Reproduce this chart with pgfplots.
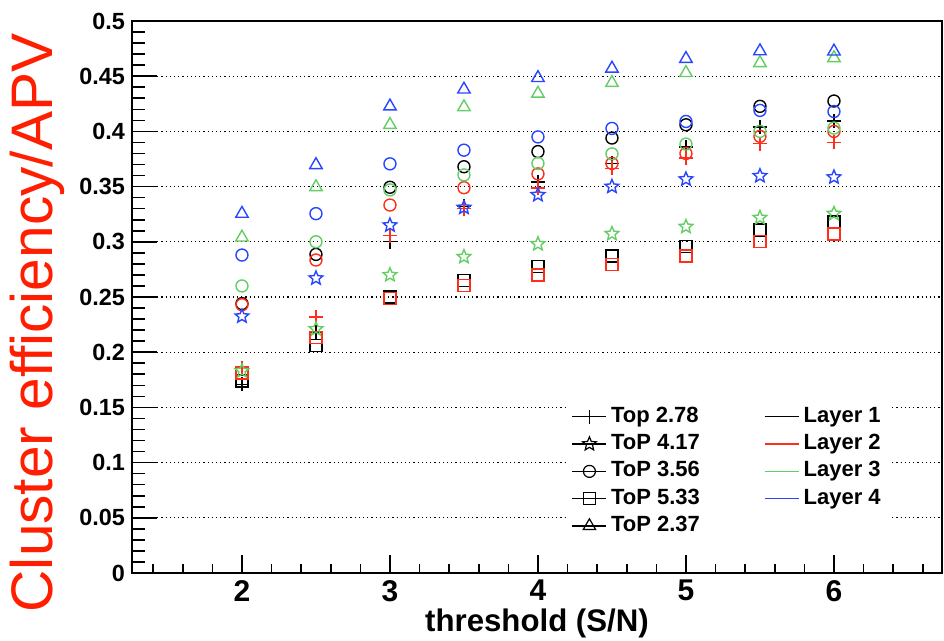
\documentclass[border=0pt]{standalone}
\usepackage{pgfplots}
\usepackage{pgfplotstable}
\pgfplotsset{compat=1.18}
\usepackage{fontspec}
\setmainfont{Liberation Sans}
\definecolor{rred}{RGB}{255,45,25}
\definecolor{rgreen}{RGB}{100,205,100}
\definecolor{rblue}{RGB}{40,70,255}
\definecolor{lblred}{RGB}{255,30,0}
\pgfdeclareplotmark{ostar}{%
  \pgfpathmoveto{\pgfpointpolar{90}{\pgfplotmarksize}}%
  \pgfpathlineto{\pgfpointpolar{126}{0.45*\pgfplotmarksize}}%
  \pgfpathlineto{\pgfpointpolar{162}{\pgfplotmarksize}}%
  \pgfpathlineto{\pgfpointpolar{198}{0.45*\pgfplotmarksize}}%
  \pgfpathlineto{\pgfpointpolar{234}{\pgfplotmarksize}}%
  \pgfpathlineto{\pgfpointpolar{270}{0.45*\pgfplotmarksize}}%
  \pgfpathlineto{\pgfpointpolar{306}{\pgfplotmarksize}}%
  \pgfpathlineto{\pgfpointpolar{342}{0.45*\pgfplotmarksize}}%
  \pgfpathlineto{\pgfpointpolar{18}{\pgfplotmarksize}}%
  \pgfpathlineto{\pgfpointpolar{54}{0.45*\pgfplotmarksize}}%
  \pgfpathclose
  \pgfusepathqstroke}

% p = Top 2.78 (+), c = ToP 3.56 (circle), s = ToP 5.33 (square),
% st = ToP 4.17 (star), t = ToP 2.37 (triangle); digit = layer
\pgfplotstableread{
x   p1     p2     c1     c2     c3     c4     s1     s2     st3    st4    t3     t4
2   0.171  0.186  0.244  0.243  0.260  0.288  0.174  0.181  0.183  0.2325 0.304  0.3255
2.5 0.218  0.232  0.2886 0.2835 0.300  0.3255 0.206  0.2135 0.221  0.267  0.3496 0.3696
3   0.300  0.3055 0.3494 0.3333 0.347  0.3706 0.250  0.2485 0.270  0.315  0.406  0.4227
3.5 0.332  0.330  0.368  0.349  0.3606 0.383  0.265  0.2606 0.2864 0.331  0.422  0.438
4   0.354  0.3486 0.3817 0.3615 0.371  0.395  0.2775 0.270  0.298  0.3425 0.4343 0.4485
4.5 0.371  0.3666 0.394  0.371  0.3796 0.4027 0.287  0.2793 0.3073 0.350  0.444  0.457
5   0.386  0.3758 0.406  0.380  0.3885 0.409  0.296  0.287  0.3137 0.3567 0.453  0.4658
5.5 0.404  0.389  0.4227 0.3955 0.400  0.419  0.3106 0.300  0.3218 0.3597 0.462  0.4727
6   0.4095 0.390  0.4275 0.400  0.403  0.418  0.318  0.307  0.3255 0.3585 0.4665 0.4725
}\data

\begin{document}
\begin{tikzpicture}
\path[use as bounding box] (0,0) rectangle (472pt,320.5pt);
\pgfplotsset{base/.style={
  at={(66pt,34pt)}, anchor=south west, scale only axis,
  width=405pt, height=276pt,
  xmin=1.257, xmax=6.73, ymin=0, ymax=0.5,
  tick align=inside,
  axis line style={line width=0.9pt},
  every tick/.style={black, line width=0.8pt},
}}
% axis 1: y ticks and grid
\begin{axis}[base,
  xtick=\empty,
  ytick={0,0.05,0.1,0.15,0.2,0.25,0.3,0.35,0.4,0.45,0.5},
  yticklabels={0,0.05,0.1,0.15,0.2,0.25,0.3,0.35,0.4,0.45,0.5},
  minor ytick={0.01,0.02,0.03,0.04,0.06,0.07,0.08,0.09,0.11,0.12,0.13,0.14,0.16,0.17,0.18,0.19,0.21,0.22,0.23,0.24,0.26,0.27,0.28,0.29,0.31,0.32,0.33,0.34,0.36,0.37,0.38,0.39,0.41,0.42,0.43,0.44,0.46,0.47,0.48,0.49},
  ytick pos=left,
  major tick length=12.5pt, minor tick length=6.3pt,
  ymajorgrids,
  major grid style={black, line width=0.6pt, dash pattern=on 0.6pt off 1.5pt},
  yticklabel style={font=\bfseries\fontsize{11.7}{12}\selectfont},
]
\end{axis}
% axis 2: x ticks, data, legend
\begin{axis}[base,
  ytick=\empty,
  xtick={2,3,4,5,6},
  xticklabels={2,3,4,5,6},
  minor xtick={1.4,1.6,1.8,2.2,2.4,2.6,2.8,3.2,3.4,3.6,3.8,4.2,4.4,4.6,4.8,5.2,5.4,5.6,5.8,6.2,6.4,6.6},
  xtick pos=bottom,
  major tick length=9pt, minor tick length=4.5pt,
  xticklabel style={font=\bfseries\fontsize{15}{16}\selectfont},
  xlabel={threshold (S/N)},
  xlabel style={font=\bfseries\fontsize{15.6}{18}\selectfont, inner sep=0pt, at={(axis description cs:0.5,0)}, anchor=center, yshift=-25pt},
  legend columns=2,
  legend cell align=left,
  legend style={at={(axis description cs:0.535,0.31)}, anchor=north west,
    draw=none, fill=white, font=\bfseries\fontsize{11}{12}\selectfont,
    nodes={inner ysep=0pt, text height=8pt, text depth=2.5pt},
    row sep=3.15pt,
    /tikz/column 2/.style={column sep=30pt}},
  every axis plot/.append style={line width=0.7pt},
]
\addplot[only marks, black, mark=+, mark size=3.5pt, forget plot] table[x=x,y=p1]{\data};
\addplot[only marks, black, mark=o, mark size=3pt, forget plot] table[x=x,y=c1]{\data};
\addplot[only marks, black, mark=square, mark size=3pt, forget plot] table[x=x,y=s1]{\data};
\addplot[only marks, rred, mark=+, mark size=3.5pt, forget plot] table[x=x,y=p2]{\data};
\addplot[only marks, rred, mark=o, mark size=3pt, forget plot] table[x=x,y=c2]{\data};
\addplot[only marks, rred, mark=square, mark size=3pt, forget plot] table[x=x,y=s2]{\data};
\addplot[only marks, rgreen, mark=o, mark size=3pt, forget plot] table[x=x,y=c3]{\data};
\addplot[only marks, rgreen, mark=ostar, mark size=3.6pt, forget plot] table[x=x,y=st3]{\data};
\addplot[only marks, rgreen, mark=triangle, mark size=3.6pt, forget plot] table[x=x,y=t3]{\data};
\addplot[only marks, rblue, mark=o, mark size=3pt, forget plot] table[x=x,y=c4]{\data};
\addplot[only marks, rblue, mark=ostar, mark size=3.6pt, forget plot] table[x=x,y=st4]{\data};
\addplot[only marks, rblue, mark=triangle, mark size=3.6pt, forget plot] table[x=x,y=t4]{\data};

\addlegendimage{black, line width=0.6pt, mark=+, mark size=3.5pt}
\addlegendentry{Top 2.78}
\addlegendimage{black, line width=0.6pt}
\addlegendentry{Layer 1}
\addlegendimage{black, line width=0.6pt, mark=ostar, mark size=3.6pt}
\addlegendentry{ToP 4.17}
\addlegendimage{rred, line width=0.7pt}
\addlegendentry{Layer 2}
\addlegendimage{black, line width=0.6pt, mark=o, mark size=3pt}
\addlegendentry{ToP 3.56}
\addlegendimage{rgreen, line width=0.8pt}
\addlegendentry{Layer 3}
\addlegendimage{black, line width=0.6pt, mark=square, mark size=3pt}
\addlegendentry{ToP 5.33}
\addlegendimage{rblue, line width=0.7pt}
\addlegendentry{Layer 4}
\addlegendimage{black, line width=0.6pt, mark=triangle, mark size=3.6pt}
\addlegendentry{ToP 2.37}
\addlegendimage{empty legend}
\addlegendentry{}
\end{axis}
\node[rotate=90, text=lblred, font=\fontsize{29.3}{35}\selectfont] at (18.5pt,159pt) {Cluster efficiency/APV};
\end{tikzpicture}
\end{document}
